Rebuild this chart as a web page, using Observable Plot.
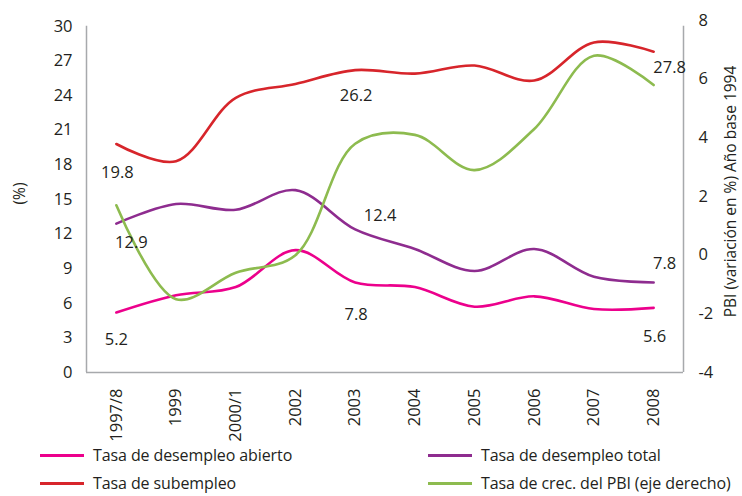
<!DOCTYPE html>
<html>
<head>
<meta charset="utf-8">
<script src="https://cdn.jsdelivr.net/npm/d3@7"></script>
<script src="https://cdn.jsdelivr.net/npm/@observablehq/plot@0.6"></script>
<style>
  body { margin: 0; background: #fff; font-family: "Open Sans", sans-serif; color: #231f20; position: relative; width: 742px; height: 496px; }
  #legend { position: absolute; left: 0; top: 441px; width: 742px; height: 54px; display: grid;
    grid-template-columns: 388px 314px; grid-auto-rows: 28px; padding-left: 40px; box-sizing: border-box; }
  .item { display: flex; align-items: center; height: 28px; font-size: 16px; line-height: 20px; white-space: nowrap; letter-spacing: -0.1px; }
  .swatch { display: inline-block; width: 44px; height: 3px; margin-right: 9px; }
</style>
</head>
<body>
<div id="chart"></div>
<div id="legend"></div>
<script>
const categories = ["1997/8","1999","2000/1","2002","2003","2004","2005","2006","2007","2008"];
const desempleoAbierto = [5.2, 6.7, 7.4, 10.6, 7.8, 7.4, 5.7, 6.6, 5.5, 5.6];
const subempleo        = [19.8, 18.3, 23.8, 25.0, 26.2, 25.9, 26.6, 25.3, 28.6, 27.8];
const desempleoTotal   = [12.9, 14.6, 14.1, 15.8, 12.4, 10.7, 8.8, 10.7, 8.3, 7.8];
const crecPBI          = [1.7, -1.5, -0.6, 0.0, 3.8, 4.1, 2.9, 4.3, 6.8, 5.8];

const leftTicks = [0, 3, 6, 9, 12, 15, 18, 21, 24, 27, 30];
const rightTicks = [-4, -2, 0, 2, 4, 6, 8];

const seriesNames = ["Tasa de desempleo abierto", "Tasa de desempleo total", "Tasa de subempleo", "Tasa de crec. del PBI (eje derecho)"];
const colors = {
  "Tasa de desempleo abierto": "#ec008c",
  "Tasa de desempleo total": "#8e2c8f",
  "Tasa de subempleo": "#d7252b",
  "Tasa de crec. del PBI (eje derecho)": "#8dbb4f"
};

// left scale domain top (slightly above 30 so right-axis 8 sits a bit higher)
const yTop = 30.5;
const rMin = -4, rMax = 8;
const toLeft = v => (v - rMin) * yTop / (rMax - rMin);
const fromLeft = p => Math.round(p * (rMax - rMin) / yTop + rMin);

const idx = categories.map((_, i) => i);
const xDomain = [-0.5, categories.length - 0.5];

const rows = [];
idx.forEach(i => {
  rows.push({s: "Tasa de desempleo abierto", i, v: desempleoAbierto[i], y: desempleoAbierto[i]});
  rows.push({s: "Tasa de subempleo", i, v: subempleo[i], y: subempleo[i]});
  rows.push({s: "Tasa de desempleo total", i, v: desempleoTotal[i], y: desempleoTotal[i]});
  rows.push({s: "Tasa de crec. del PBI (eje derecho)", i, v: crecPBI[i], y: toLeft(crecPBI[i])});
});
const pick = (s, i) => rows.find(r => r.s === s && r.i === i);
const fmt = d3.format(".1f");

// value labels (series, category index, offset)
const annotations = [
  {r: pick("Tasa de subempleo", 0), dx: 1, dy: 29},
  {r: pick("Tasa de desempleo total", 0), dx: 15, dy: 19},
  {r: pick("Tasa de desempleo abierto", 0), dx: 0, dy: 27},
  {r: pick("Tasa de subempleo", 4), dx: 1, dy: 26},
  {r: pick("Tasa de desempleo total", 4), dx: 25, dy: -14},
  {r: pick("Tasa de desempleo abierto", 4), dx: 1, dy: 32},
  {r: pick("Tasa de subempleo", 9), dx: 16, dy: 16},
  {r: pick("Tasa de desempleo total", 9), dx: 11, dy: -19},
  {r: pick("Tasa de desempleo abierto", 9), dx: 1, dy: 29}
];

const font = "'Open Sans', sans-serif";
const textColor = "#231f20";
const axisColor = "#a7a9ac";

const chart = Plot.plot({
  width: 742,
  height: 452,
  marginLeft: 86,
  marginRight: 59,
  marginTop: 20,
  marginBottom: 80,
  style: {fontFamily: font, fontSize: "16px", color: textColor, background: "transparent"},
  x: {domain: xDomain, axis: null},
  y: {domain: [0, yTop], axis: null},
  marks: [
    Plot.ruleX(xDomain, {y1: 0, y2: 30, stroke: axisColor, strokeWidth: 1.5}),
    Plot.ruleY([0], {stroke: axisColor, strokeWidth: 1.5}),
    Plot.axisY({anchor: "left", ticks: leftTicks, tickSize: 0, tickPadding: 14, label: null,
      fontSize: 16.5, fill: textColor}),
    Plot.axisY({anchor: "right", ticks: rightTicks.map(toLeft), tickFormat: p => String(fromLeft(p)),
      tickSize: 0, tickPadding: 15, label: null, fontSize: 16.5, fill: textColor, textAnchor: "start"}),
    Plot.axisX({anchor: "bottom", ticks: idx, tickFormat: i => categories[i], tickRotate: -90,
      tickSize: 0, tickPadding: 16, label: null, fontSize: 16.5, fill: textColor}),
    Plot.text(["(%)"], {frameAnchor: "left", textAnchor: "middle", dx: -66, dy: -3, rotate: -90,
      fontSize: 15.5, fill: textColor}),
    Plot.text(["PBI (variación en %) Año base 1994"], {frameAnchor: "right", textAnchor: "middle",
      dx: 48, dy: -5, rotate: -90, fontSize: 15.5, fill: textColor}),
    ...seriesNames.map(s => Plot.line(rows.filter(r => r.s === s), {
      x: "i", y: "y", stroke: colors[s], strokeWidth: 2.6, curve: "catmull-rom"
    })),
    ...annotations.map(a => Plot.text([a.r], {x: "i", y: "y", text: d => fmt(d.v),
      dx: a.dx, dy: a.dy, fontSize: 16.5, fill: textColor}))
  ]
});
document.getElementById("chart").appendChild(chart);

const legendOrder = ["Tasa de desempleo abierto", "Tasa de desempleo total", "Tasa de subempleo", "Tasa de crec. del PBI (eje derecho)"];
const legend = document.getElementById("legend");
legendOrder.forEach(s => {
  const item = document.createElement("div");
  item.className = "item";
  const sw = document.createElement("span");
  sw.className = "swatch";
  sw.style.background = colors[s];
  item.appendChild(sw);
  item.appendChild(document.createTextNode(s));
  legend.appendChild(item);
});
</script>
</body>
</html>
